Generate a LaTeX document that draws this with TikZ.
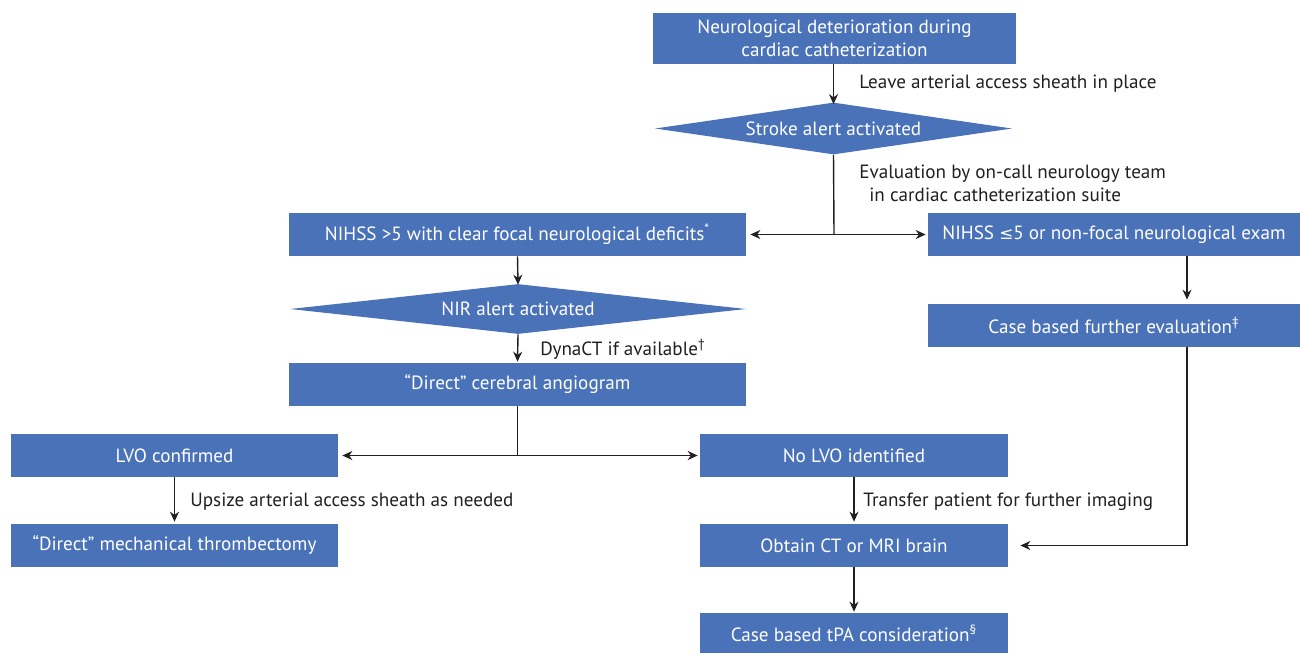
\documentclass[tikz,border=0pt]{standalone}
\usepackage{fontspec}
\setmainfont{PT Sans}
\newfontfamily\symfnt{DejaVu Sans}
\usetikzlibrary{shapes.geometric,arrows.meta,calc}
\definecolor{boxblue}{RGB}{74,114,184}
\definecolor{linegray}{RGB}{35,31,32}
\def\pu{0.02cm}
\begin{document}
\begin{tikzpicture}[x=0.02cm,y=-0.02cm,
  box/.style={rectangle,fill=boxblue,text=white,inner sep=0pt,font=\fontsize{10.9}{13}\selectfont,align=center},
  dia/.style={diamond,fill=boxblue,text=white,inner sep=0pt,font=\fontsize{10.9}{13}\selectfont},
  lab/.style={anchor=west,inner sep=0pt,text=linegray,font=\fontsize{10.9}{13}\selectfont,align=left},
  arr/.style={draw=linegray,line width=1.4*\pu,-{Stealth[length=10*\pu,width=9*\pu]}},
  ln/.style={draw=linegray,line width=1.4*\pu}]
\useasboundingbox (0,0) rectangle (1300,653);
\node[box,minimum width=363*\pu,minimum height=51*\pu] (n1) at (834.5,38.5) {Neurological deterioration during\\cardiac catheterization};
\node[dia,aspect=10,minimum width=357*\pu,minimum height=52*\pu] (d1) at (833.5,128.5) {Stroke alert activated};
\node[box,minimum width=457*\pu,minimum height=43*\pu] (n2) at (517.5,234.5) {NIHSS >5 with clear focal neurological deficits\textsuperscript{*}};
\node[box,minimum width=372*\pu,minimum height=43*\pu] (n3) at (1114,234.5) {NIHSS {\symfnt\fontsize{9.6}{13}\selectfont ≤}5 or non-focal neurological exam};
\node[dia,aspect=12,minimum width=456*\pu,minimum height=50*\pu] (d2) at (518,309) {NIR alert activated};
\node[box,minimum width=457*\pu,minimum height=43*\pu] (n4) at (517.5,384.5) {“Direct” cerebral angiogram};
\node[box,minimum width=372*\pu,minimum height=43*\pu] (n10) at (1114,325.5) {Case based further evaluation\textsuperscript{‡}};
\node[box,minimum width=327*\pu,minimum height=43*\pu] (n5) at (174.5,455.5) {LVO confirmed};
\node[box,minimum width=308*\pu,minimum height=43*\pu] (n6) at (854,455.5) {No LVO identified};
\node[box,minimum width=327*\pu,minimum height=43*\pu] (n7) at (174.5,545.5) {“Direct” mechanical thrombectomy};
\node[box,minimum width=308*\pu,minimum height=43*\pu] (n8) at (854,545.5) {Obtain CT or MRI brain};
\node[box,minimum width=308*\pu,minimum height=40*\pu] (n9) at (854,633) {Case based tPA consideration\textsuperscript{§}};
% labels
\node[lab] (l1) at (859,84) {Leave arterial access sheath in place};
\node[lab] (l2) at (859,183) {Evaluation by on-call neurology team\\\hspace*{0.2cm}in cardiac catheterization suite};
\node[lab] (l3) at (540,349) {DynaCT if available\textsuperscript{†}};
\node[lab] (l4) at (190,502) {Upsize arterial access sheath as needed};
\node[lab] (l5) at (863,502) {Transfer patient for further imaging};
% connectors
\coordinate (j1) at (834,234.5);
\coordinate (j2) at (517.5,455.5);
\coordinate (c1) at (1187,0);
\draw[arr] (n1.south -| d1.north) -- ([yshift=-2*\pu]d1.north);
\draw[ln] (d1.south) -- (j1);
\draw[arr] (j1) -- ($(n2.east)+(4,0)$);
\draw[arr] (j1) -- ($(n3.west)+(-2,0)$);
\draw[arr] (n2.south) -- ([yshift=-1*\pu]d2.north);
\draw[arr] (d2.south) -- ([yshift=1*\pu]n4.north);
\draw[ln] (n4.south) -- (j2);
\draw[arr] (j2) -- ($(n5.east)+(4,0)$);
\draw[arr] (j2) -- ($(n6.west)+(-2,0)$);
\draw[arr] (n5.south) -- ([yshift=2*\pu]n7.north);
\draw[arr] (n6.south) -- ([yshift=2*\pu]n8.north);
\draw[arr] (n8.south) -- ([yshift=1*\pu]n9.north);
\draw[arr] (n3.south -| c1) -- ([yshift=4*\pu]n10.north -| c1);
\draw[arr] (n10.south -| c1) |- ($(n8.east)+(12,0)$);
\end{tikzpicture}
\end{document}
